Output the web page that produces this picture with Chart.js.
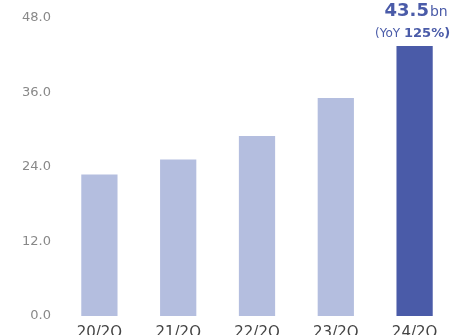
<!DOCTYPE html>
<html>
<head>
<meta charset="utf-8">
<style>
html,body{margin:0;padding:0;background:#fff;}
#wrap{width:458px;height:335px;}
</style>
<script src="https://cdn.jsdelivr.net/npm/chart.js@4"></script>
</head>
<body>
<div id="wrap"><canvas id="c" width="458" height="335"></canvas></div>
<script>
const categories = ["20/2Q", "21/2Q", "22/2Q", "23/2Q", "24/2Q"];
const values = [22.8, 25.2, 29.0, 35.1, 43.5];
const yTicks = [0, 12, 24, 36, 48];
const highlightValue = "43.5";
const highlightUnit = "bn";
const highlightNotePre = "(YoY ";
const highlightNotePct = "125%)";

const LIGHT = "#b4bedf";
const DARK = "#4a5ba8";
const FONT = "'DejaVu Sans', sans-serif";

const annotate = {
  id: "annotate",
  afterDatasetsDraw(chart) {
    const ctx = chart.ctx;
    const meta = chart.getDatasetMeta(0);
    const el = meta.data[meta.data.length - 1];
    const x = el.x;
    ctx.save();
    ctx.fillStyle = DARK;
    ctx.textBaseline = "alphabetic";
    ctx.textAlign = "left";
    ctx.font = "bold 18px " + FONT;
    const w1 = ctx.measureText(highlightValue).width;
    ctx.font = "14px " + FONT;
    const w2 = ctx.measureText(highlightUnit).width;
    const total = w1 + w2;
    const sx = x + 2 - total / 2;
    ctx.font = "bold 18px " + FONT;
    ctx.fillText(highlightValue, sx - 1, 16);
    ctx.font = "14px " + FONT;
    ctx.fillText(highlightUnit, sx + w1, 16);
    ctx.font = "12px " + FONT;
    const w3 = ctx.measureText(highlightNotePre).width;
    ctx.font = "bold 13px " + FONT;
    const w4 = ctx.measureText(highlightNotePct).width;
    const sx2 = x - 2 - (w3 + w4) / 2;
    ctx.font = "12px " + FONT;
    ctx.fillText(highlightNotePre, sx2, 37);
    ctx.font = "bold 13px " + FONT;
    ctx.fillText(highlightNotePct, sx2 + w3, 37);
    ctx.restore();
  }
};

new Chart(document.getElementById("c"), {
  type: "bar",
  data: {
    labels: categories,
    datasets: [{
      data: values,
      backgroundColor: values.map((v, i) => i === values.length - 1 ? DARK : LIGHT),
      borderWidth: 0,
      barPercentage: 0.46,
      categoryPercentage: 1.0
    }]
  },
  options: {
    responsive: false,
    animation: false,
    layout: { padding: { top: 18, right: 4, left: 0, bottom: 0 } },
    plugins: { legend: { display: false }, tooltip: { enabled: false } },
    scales: {
      x: {
        grid: { display: false },
        border: { display: false },
        ticks: { color: "#444", font: { family: FONT, size: 15 }, padding: 0, maxRotation: 0 },
        afterFit(s) { s.height = 19; }
      },
      y: {
        min: 0, max: 48,
        afterBuildTicks(s) { s.ticks = yTicks.map(v => ({ value: v })); },
        grid: { display: false },
        border: { display: false },
        ticks: {
          color: "#888", font: { family: FONT, size: 13 }, padding: 1,
          callback: v => Number(v).toFixed(1)
        },
        afterFit(s) { s.width = 60; }
      }
    }
  },
  plugins: [annotate]
});
</script>
</body>
</html>
